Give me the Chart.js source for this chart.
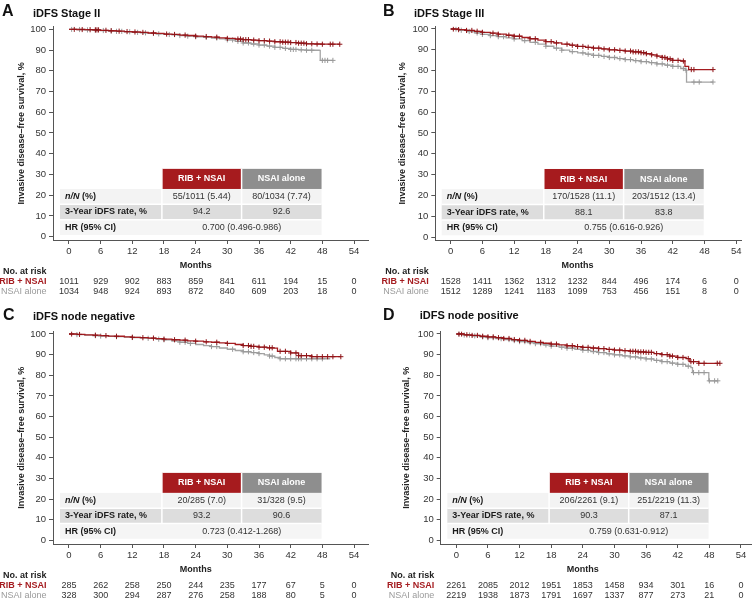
<!DOCTYPE html>
<html><head><meta charset="utf-8">
<script src="https://cdn.jsdelivr.net/npm/chart.js@4.4.0/dist/chart.umd.min.js"></script>
<style>
html,body{margin:0;padding:0;background:#fff;}
#wrap{position:relative;width:756px;height:602px;overflow:hidden;background:#fff;}
.p{position:absolute;}
</style></head><body>
<div id="wrap">
<div class="p" style="left:0;top:0;width:378px;height:304px"><canvas id="cA"></canvas></div>
<div class="p" style="left:378px;top:0;width:378px;height:304px"><canvas id="cB"></canvas></div>
<div class="p" style="left:0;top:304px;width:378px;height:298px"><canvas id="cC"></canvas></div>
<div class="p" style="left:378px;top:304px;width:378px;height:298px"><canvas id="cD"></canvas></div>
</div>
<script>
// ---------- DATA ----------
const monthTicks = [0, 6, 12, 18, 24, 30, 36, 42, 48, 54];
const survTicks = [0, 10, 20, 30, 40, 50, 60, 70, 80, 90, 100];
const armLabels = ['RIB + NSAI', 'NSAI alone'];
const rowLabels = ['n/N (%)', '3-Year iDFS rate, %', 'HR (95% CI)'];

// Panel A: iDFS Stage II
const stageII_rib_t = [0, 1.5, 3, 4.5, 6, 7.5, 9, 10.5, 12, 13.5, 15, 16.5, 18, 19.5, 21, 22.5, 24, 25.5, 27, 28.5, 30, 31.5, 33, 34.5, 36, 37.5, 39, 40.5, 42, 43.5, 45, 46.5, 48, 51.3];
const stageII_rib_s = [100, 99.9, 99.8, 99.7, 99.5, 99.3, 99.1, 98.9, 98.7, 98.5, 98.2, 98.0, 97.7, 97.5, 97.2, 97.0, 96.7, 96.5, 96.2, 95.9, 95.6, 95.3, 95.0, 94.8, 94.5, 94.3, 94.0, 93.8, 93.6, 93.3, 93.0, 92.9, 92.8, 92.8];
const stageII_rib_cens = [1, 2.5, 4, 5, 5.3, 5.6, 7, 8, 9.5, 11, 12.5, 14, 16, 18.5, 20, 22, 24, 26, 28, 30, 32, 32.5, 33, 33.5, 34, 35, 36, 37, 38, 39, 40, 40.5, 41, 41.5, 42, 43, 43.5, 44, 44.5, 45, 46, 47, 48, 49.5, 50, 51.3];
const stageII_nsai_t = [0, 1.5, 3, 4.5, 6, 7.5, 9, 10.5, 12, 13.5, 15, 16.5, 18, 19.5, 21, 22.5, 24, 25.5, 27, 28.5, 30, 31.5, 33, 34.5, 36, 37.5, 39, 40.5, 42, 43.5, 45, 47.4, 47.6, 50];
const stageII_nsai_s = [100, 99.9, 99.7, 99.6, 99.4, 99.2, 99.0, 98.8, 98.5, 98.3, 98.0, 97.8, 97.5, 97.3, 97.0, 96.7, 96.4, 96.1, 95.8, 95.4, 94.9, 94.2, 93.4, 92.9, 92.4, 91.9, 91.3, 90.8, 90.3, 90.1, 89.9, 89.8, 85.0, 85.0];
const stageII_nsai_cens = [0.5, 2, 3.5, 5, 6.5, 8, 9, 10, 11.5, 13, 14.5, 16, 17, 19, 21, 22.5, 24, 26, 28, 30, 31, 32, 33, 34, 35, 36, 37, 38, 39, 40, 41, 42, 42.5, 43, 44, 45, 46, 48, 48.5, 49, 50];
const stageII_rib_risk = [1011, 929, 902, 883, 859, 841, 611, 194, 15, 0];
const stageII_nsai_risk = [1034, 948, 924, 893, 872, 840, 609, 203, 18, 0];
const stageII_events = ['55/1011 (5.44)', '80/1034 (7.74)'];
const stageII_rate = ['94.2', '92.6'];
const stageII_hr = '0.700 (0.496-0.986)';

// Panel B: iDFS Stage III
const stageIII_rib_t = [0, 1.5, 3, 4.5, 6, 7.5, 9, 10.5, 12, 13.5, 15, 16.5, 18, 19.5, 21, 22.5, 24, 25.5, 27, 28.5, 30, 31.5, 33, 34.5, 36, 37, 38, 39, 40, 41, 42, 43.5, 44.3, 45, 49.6];
const stageIII_rib_s = [100, 99.7, 99.3, 98.9, 98.4, 98.0, 97.5, 97.0, 96.5, 95.9, 95.3, 94.6, 93.9, 93.3, 92.7, 92.2, 91.6, 91.2, 90.8, 90.4, 90.0, 89.7, 89.4, 89.0, 88.6, 88.1, 87.6, 87.0, 86.3, 85.6, 84.9, 84.6, 82.0, 80.5, 80.5];
const stageIII_rib_cens = [0.5, 1.5, 3, 4, 5, 6, 8, 9, 11, 12, 13, 15, 16, 18, 19, 20, 22, 23, 24, 25, 26, 27, 28, 29, 30, 31, 32, 33, 34, 34.5, 35, 35.5, 36, 36.5, 37, 38, 39, 40, 40.5, 41, 41.5, 42, 43, 44, 45.5, 46, 49.6];
const stageIII_nsai_t = [0, 1.5, 3, 4.5, 6, 7.5, 9, 10.5, 12, 13.5, 15, 16.5, 18, 19.5, 21, 22.5, 24, 25.5, 27, 28.5, 30, 31.5, 33, 34.5, 36, 37.5, 39, 40.5, 42, 43.5, 44.4, 44.6, 49.6];
const stageIII_nsai_s = [100, 99.4, 98.8, 98.1, 97.4, 96.8, 96.3, 95.7, 95.2, 94.4, 93.6, 92.7, 91.7, 90.8, 89.8, 89.1, 88.5, 87.9, 87.3, 86.8, 86.3, 85.8, 85.3, 84.8, 84.3, 83.8, 83.2, 82.6, 82.0, 81.0, 80.2, 74.5, 74.5];
const stageIII_nsai_cens = [1, 2, 3.5, 5, 6, 7.5, 9, 10, 12, 14, 16, 18, 20, 21, 23, 25, 26, 27, 28, 29, 30, 31, 32, 33, 34, 35, 36, 37, 38, 39, 40, 41, 42, 43, 44, 44.5, 46, 47, 49.6];
const stageIII_rib_risk = [1528, 1411, 1362, 1312, 1232, 844, 496, 174, 6, 0];
const stageIII_nsai_risk = [1512, 1289, 1241, 1183, 1099, 753, 456, 151, 8, 0];
const stageIII_events = ['170/1528 (11.1)', '203/1512 (13.4)'];
const stageIII_rate = ['88.1', '83.8'];
const stageIII_hr = '0.755 (0.616-0.926)';

// Panel C: iDFS node negative
const nodeNeg_rib_t = [0, 1.5, 3, 4.5, 6, 7.5, 9, 10.5, 12, 13.5, 15, 16.5, 18, 19.5, 21, 22.5, 24, 25.5, 27, 28.5, 30, 31.5, 33, 34.5, 36, 37.5, 38.8, 39.5, 42, 43.5, 46, 51.5];
const nodeNeg_rib_s = [100, 99.8, 99.6, 99.4, 99.2, 99.0, 98.9, 98.6, 98.4, 98.2, 98.0, 97.7, 97.5, 97.2, 97.0, 96.7, 96.5, 96.2, 96.0, 95.7, 95.4, 94.9, 94.4, 94.0, 93.6, 93.3, 93.1, 91.6, 90.8, 89.5, 89.0, 89.0];
const nodeNeg_rib_cens = [0.5, 2, 5, 7, 9, 12, 14, 16, 18, 20, 22, 24, 26, 28, 30, 33, 34, 34.5, 35, 36, 37, 38, 38.5, 40, 41, 42, 43, 43.5, 44, 45, 46, 47, 48, 49, 50, 51.5];
const nodeNeg_nsai_t = [0, 1.5, 3, 4.5, 6, 7.5, 9, 10.5, 12, 13.5, 15, 16.5, 18, 19.5, 21, 22.5, 24, 25.5, 27, 28.5, 30, 31.5, 33, 34.5, 36, 37, 38, 39, 40, 49.5];
const nodeNeg_nsai_s = [100, 99.7, 99.4, 99.2, 99.0, 98.8, 98.7, 98.5, 98.3, 98.1, 97.9, 97.5, 97.2, 96.6, 96.0, 95.4, 94.9, 94.4, 93.9, 93.2, 92.6, 92.0, 91.4, 91.0, 90.5, 89.9, 89.3, 88.6, 88.0, 88.0];
const nodeNeg_nsai_cens = [1.5, 5, 6, 9, 12, 15, 17, 18, 21, 22, 23, 27, 28, 31, 33, 34, 35, 36, 38, 38.5, 40, 41, 42, 43, 43.5, 44, 45, 46, 47, 48];
const nodeNeg_rib_risk = [285, 262, 258, 250, 244, 235, 177, 67, 5, 0];
const nodeNeg_nsai_risk = [328, 300, 294, 287, 276, 258, 188, 80, 5, 0];
const nodeNeg_events = ['20/285 (7.0)', '31/328 (9.5)'];
const nodeNeg_rate = ['93.2', '90.6'];
const nodeNeg_hr = '0.723 (0.412-1.268)';

// Panel D: iDFS node positive
const nodePos_rib_t = [0, 1.5, 3, 4.5, 6, 7.5, 9, 10.5, 12, 13.5, 15, 16.5, 18, 19.5, 21, 22.5, 24, 25.5, 27, 28.5, 30, 31.5, 33, 34.5, 36, 37.5, 39, 40.5, 42, 43.6, 44.3, 46, 50];
const nodePos_rib_s = [100, 99.6, 99.3, 98.9, 98.6, 98.2, 97.8, 97.3, 96.9, 96.4, 95.9, 95.5, 95.1, 94.7, 94.3, 93.9, 93.5, 93.2, 92.9, 92.5, 92.2, 91.9, 91.6, 91.3, 91.1, 90.5, 90.0, 89.3, 88.6, 88.1, 86.6, 85.8, 85.8];
const nodePos_rib_cens = [0.5, 1, 2, 3, 4, 5, 6, 7, 8, 9, 10, 11, 12, 13, 14, 16, 18, 19, 21, 22, 23, 24, 25, 26, 27, 28, 29, 30, 31, 32, 33, 33.5, 34, 34.5, 35, 35.5, 36, 36.5, 37, 38, 39, 40, 40.5, 41, 42, 43, 44, 44.5, 45, 46, 47, 49.5, 50];
const nodePos_nsai_t = [0, 1.5, 3, 4.5, 6, 7.5, 9, 10.5, 12, 13.5, 15, 16.5, 18, 19.5, 21, 22.5, 24, 25.5, 27, 28.5, 30, 31.5, 33, 34.5, 36, 37.5, 39, 40.5, 42, 43.5, 44.5, 44.8, 47.6, 47.9, 49.6];
const nodePos_nsai_s = [100, 99.5, 99.1, 98.6, 98.2, 97.7, 97.3, 96.8, 96.3, 95.8, 95.3, 94.7, 94.1, 93.6, 93.1, 92.6, 92.1, 91.5, 91.0, 90.4, 89.9, 89.4, 88.9, 88.4, 87.9, 87.2, 86.6, 85.9, 85.3, 84.4, 83.7, 81.3, 81.3, 77.3, 77.3];
const nodePos_nsai_cens = [0.5, 1.5, 2.5, 3.5, 5, 6, 7, 8.5, 10, 11, 12, 13, 14, 15, 16, 17, 18, 20, 21, 22, 24, 25, 26, 27, 28, 29, 30, 31, 32, 33, 34, 35, 36, 37, 38, 39, 40, 41, 42, 43, 44, 45, 46, 47, 48, 49, 49.6];
const nodePos_rib_risk = [2261, 2085, 2012, 1951, 1853, 1458, 934, 301, 16, 0];
const nodePos_nsai_risk = [2219, 1938, 1873, 1791, 1697, 1337, 877, 273, 21, 0];
const nodePos_events = ['206/2261 (9.1)', '251/2219 (11.3)'];
const nodePos_rate = ['90.3', '87.1'];
const nodePos_hr = '0.759 (0.631-0.912)';

// ---------- STYLE / LAYOUT ----------
const FF = '"Liberation Sans", Arial, Helvetica, sans-serif';
const RED = '#a51c20', RED_MARK = '#8e1418', GREY = '#a4a4a4', GREY_MARK = '#999999';
const HDR_RED = '#a61b1e', HDR_GREY = '#8e8e8e';
const AXIS = '#555555';
Chart.defaults.font.family = FF;

const panels = [
  {id:'cA', letter:'A', title:'iDFS Stage II', rib:[stageII_rib_t, stageII_rib_s, stageII_rib_cens], nsai:[stageII_nsai_t, stageII_nsai_s, stageII_nsai_cens],
   risk:[stageII_rib_risk, stageII_nsai_risk], events:stageII_events, rate:stageII_rate, hr:stageII_hr,
   H:304, xMin:-3.03, xMax:56.65, yMin:-1.6, yMax:101.2, yW:53, padTop:26.8, padRight:10, letterX:2, letterY:12, titleX:33, titleY:14, yTitleX:21.7},
  {id:'cB', letter:'B', title:'iDFS Stage III', rib:[stageIII_rib_t, stageIII_rib_s, stageIII_rib_cens], nsai:[stageIII_nsai_t, stageIII_nsai_s, stageIII_nsai_cens],
   risk:[stageIII_rib_risk, stageIII_nsai_risk], events:stageIII_events, rate:stageIII_rate, hr:stageIII_hr,
   H:304, xMin:-2.91, xMax:54.9, yMin:-1.44, yMax:101.1, yW:57.3, padTop:26.7, padRight:15, letterX:5, letterY:12, titleX:36, titleY:14, yTitleX:25},
  {id:'cC', letter:'C', title:'iDFS node negative', rib:[nodeNeg_rib_t, nodeNeg_rib_s, nodeNeg_rib_cens], nsai:[nodeNeg_nsai_t, nodeNeg_nsai_s, nodeNeg_nsai_cens],
   risk:[nodeNeg_rib_risk, nodeNeg_nsai_risk], events:nodeNeg_events, rate:nodeNeg_rate, hr:nodeNeg_hr,
   H:298, xMin:-3.03, xMax:56.65, yMin:-1.75, yMax:101.2, yW:53, padTop:27.5, padRight:10, letterX:3, letterY:12, titleX:33, titleY:13, yTitleX:21.7},
  {id:'cD', letter:'D', title:'iDFS node positive', rib:[nodePos_rib_t, nodePos_rib_s, nodePos_rib_cens], nsai:[nodePos_nsai_t, nodePos_nsai_s, nodePos_nsai_cens],
   risk:[nodePos_rib_risk, nodePos_nsai_risk], events:nodePos_events, rate:nodePos_rate, hr:nodePos_hr,
   H:298, xMin:-2.96, xMax:55.9, yMin:-1.75, yMax:101.2, yW:62.7, padTop:27.5, padRight:4.7, letterX:5, letterY:12, titleX:41.7, titleY:12, yTitleX:28.3}
];

function curvePoints(t, s) { return t.map((v, i) => ({x: v, y: s[i]})); }
function kmValueAt(t, s, time) {
  let v = s[0];
  for (let i = 0; i < t.length; i++) { if (t[i] <= time) v = s[i]; else break; }
  return v;
}
function censorPoints(t, s, c) { return c.map(time => ({x: time, y: kmValueAt(t, s, time)})); }

function makePlugin(p) {
  return {
    id: 'panelText_' + p.id,
    afterDraw(chart) {
      const ctx = chart.ctx, xs = chart.scales.x, ys = chart.scales.y, ca = chart.chartArea;
      ctx.save();
      ctx.textBaseline = 'middle';
      // panel letter & title
      ctx.fillStyle = '#111';
      ctx.textAlign = 'left';
      ctx.font = 'bold 16px ' + FF;
      ctx.fillText(p.letter, p.letterX, p.letterY);
      ctx.font = 'bold 11px ' + FF;
      ctx.fillText(p.title, p.titleX, p.titleY);
      // y title
      ctx.save();
      ctx.translate(p.yTitleX, (ca.top + ca.bottom) / 2);
      ctx.rotate(-Math.PI / 2);
      ctx.textAlign = 'center';
      ctx.font = 'bold 9px ' + FF;
      ctx.fillStyle = '#222';
      ctx.fillText('Invasive disease\u2013free survival, %', 0, 0);
      ctx.restore();
      // x title
      ctx.textAlign = 'center';
      ctx.font = 'bold 9px ' + FF;
      ctx.fillStyle = '#222';
      ctx.fillText('Months', xs.getPixelForValue(24), ca.bottom + 26);

      // table
      const tl = xs.getPixelForValue(-1.7), c1 = xs.getPixelForValue(17.6), c2 = xs.getPixelForValue(32.7), tr = xs.getPixelForValue(47.85);
      const yH0 = ys.getPixelForValue(32.7), yH1 = ys.getPixelForValue(23.0), yR1 = ys.getPixelForValue(15.6), yR2 = ys.getPixelForValue(8.2), yR3 = ys.getPixelForValue(0.8);
      ctx.fillStyle = HDR_RED; ctx.fillRect(c1, yH0, c2 - c1, yH1 - yH0);
      ctx.fillStyle = HDR_GREY; ctx.fillRect(c2, yH0, tr - c2, yH1 - yH0);
      ctx.fillStyle = '#f3f3f3'; ctx.fillRect(tl, yH1, tr - tl, yR1 - yH1);
      ctx.fillStyle = '#dddddd'; ctx.fillRect(tl, yR1, tr - tl, yR2 - yR1);
      ctx.fillStyle = '#f5f5f5'; ctx.fillRect(tl, yR2, tr - tl, yR3 - yR2);
      ctx.strokeStyle = '#ffffff'; ctx.lineWidth = 1.5;
      ctx.beginPath();
      ctx.moveTo(c1, yH0); ctx.lineTo(c1, yR2);
      ctx.moveTo(c2, yH0); ctx.lineTo(c2, yR2);
      ctx.moveTo(tl, yR1); ctx.lineTo(tr, yR1);
      ctx.moveTo(tl, yR2); ctx.lineTo(tr, yR2);
      ctx.stroke();
      ctx.fillStyle = '#ffffff';
      ctx.font = 'bold 9px ' + FF;
      ctx.textAlign = 'center';
      const hy = (yH0 + yH1) / 2;
      ctx.fillText(armLabels[0], (c1 + c2) / 2, hy);
      ctx.fillText(armLabels[1], (c2 + tr) / 2, hy);
      const r1 = (yH1 + yR1) / 2, r2 = (yR1 + yR2) / 2, r3 = (yR2 + yR3) / 2;
      ctx.fillStyle = '#1a1a1a';
      ctx.textAlign = 'left';
      const lx = tl + 5;
      const nn = rowLabels[0].split(' ');
      ctx.font = 'italic bold 9px ' + FF;
      ctx.fillText(nn[0], lx, r1);
      const w = ctx.measureText(nn[0] + ' ').width;
      ctx.font = 'bold 9px ' + FF;
      ctx.fillText(nn.slice(1).join(' '), lx + w, r1);
      ctx.fillText(rowLabels[1], lx, r2);
      ctx.fillText(rowLabels[2], lx, r3);
      ctx.font = '9px ' + FF;
      ctx.fillStyle = '#333';
      ctx.textAlign = 'center';
      ctx.fillText(p.events[0], (c1 + c2) / 2, r1);
      ctx.fillText(p.events[1], (c2 + tr) / 2, r1);
      ctx.fillText(p.rate[0], (c1 + c2) / 2, r2);
      ctx.fillText(p.rate[1], (c2 + tr) / 2, r2);
      ctx.fillText(p.hr, (c1 + tr) / 2, r3);

      // numbers at risk
      const lr = ca.left - 6.5;
      ctx.textAlign = 'right';
      ctx.font = 'bold 9px ' + FF;
      ctx.fillStyle = '#222';
      ctx.fillText('No. at risk', lr, ca.bottom + 32);
      ctx.fillStyle = RED;
      ctx.fillText(armLabels[0], lr, ca.bottom + 42);
      ctx.font = '9px ' + FF;
      ctx.fillStyle = '#9a9a9a';
      ctx.fillText(armLabels[1], lr, ca.bottom + 51.5);
      ctx.textAlign = 'center';
      ctx.fillStyle = '#333';
      monthTicks.forEach((m, i) => {
        const x = xs.getPixelForValue(m);
        ctx.fillText(String(p.risk[0][i]), x, ca.bottom + 42);
        ctx.fillText(String(p.risk[1][i]), x, ca.bottom + 51.5);
      });
      ctx.restore();
    }
  };
}

panels.forEach(p => {
  const cfg = {
    type: 'scatter',
    data: {
      datasets: [
        {label: armLabels[0] + ' censored', data: censorPoints(p.rib[0], p.rib[1], p.rib[2]), showLine: false,
         pointStyle: 'cross', pointRadius: 2.6, pointBorderWidth: 1, borderColor: RED_MARK, backgroundColor: RED_MARK},
        {label: armLabels[0], data: curvePoints(p.rib[0], p.rib[1]), showLine: true, stepped: true,
         pointRadius: 0, borderColor: RED, borderWidth: 1.3, fill: false},
        {label: armLabels[1] + ' censored', data: censorPoints(p.nsai[0], p.nsai[1], p.nsai[2]), showLine: false,
         pointStyle: 'cross', pointRadius: 2.6, pointBorderWidth: 1, borderColor: GREY_MARK, backgroundColor: GREY_MARK},
        {label: armLabels[1], data: curvePoints(p.nsai[0], p.nsai[1]), showLine: true, stepped: true,
         pointRadius: 0, borderColor: GREY, borderWidth: 1.3, fill: false}
      ]
    },
    options: {
      responsive: true, maintainAspectRatio: false, animation: false, events: [],
      layout: {padding: {left: 0, top: p.padTop, right: p.padRight, bottom: p.H - 240 - 20}},
      plugins: {legend: {display: false}, tooltip: {enabled: false}, title: {display: false}},
      scales: {
        x: {type: 'linear', min: p.xMin, max: p.xMax,
            afterBuildTicks: s => { s.ticks = monthTicks.map(v => ({value: v})); },
            afterFit: s => { s.height = 20; },
            grid: {drawOnChartArea: false, drawTicks: true, tickLength: 4, color: AXIS},
            border: {display: true, color: AXIS, width: 1},
            ticks: {autoSkip: false, maxRotation: 0, padding: 2, color: '#333', font: {size: 9.5}}},
        y: {type: 'linear', min: p.yMin, max: p.yMax,
            afterBuildTicks: s => { s.ticks = survTicks.map(v => ({value: v})); },
            afterFit: s => { s.width = p.yW; },
            grid: {drawOnChartArea: false, drawTicks: true, tickLength: 4, color: AXIS},
            border: {display: true, color: AXIS, width: 1},
            ticks: {padding: 3, color: '#333', font: {size: 9.5}}}
      }
    },
    plugins: [makePlugin(p)]
  };
  new Chart(document.getElementById(p.id), cfg);
});
</script>
</body></html>
